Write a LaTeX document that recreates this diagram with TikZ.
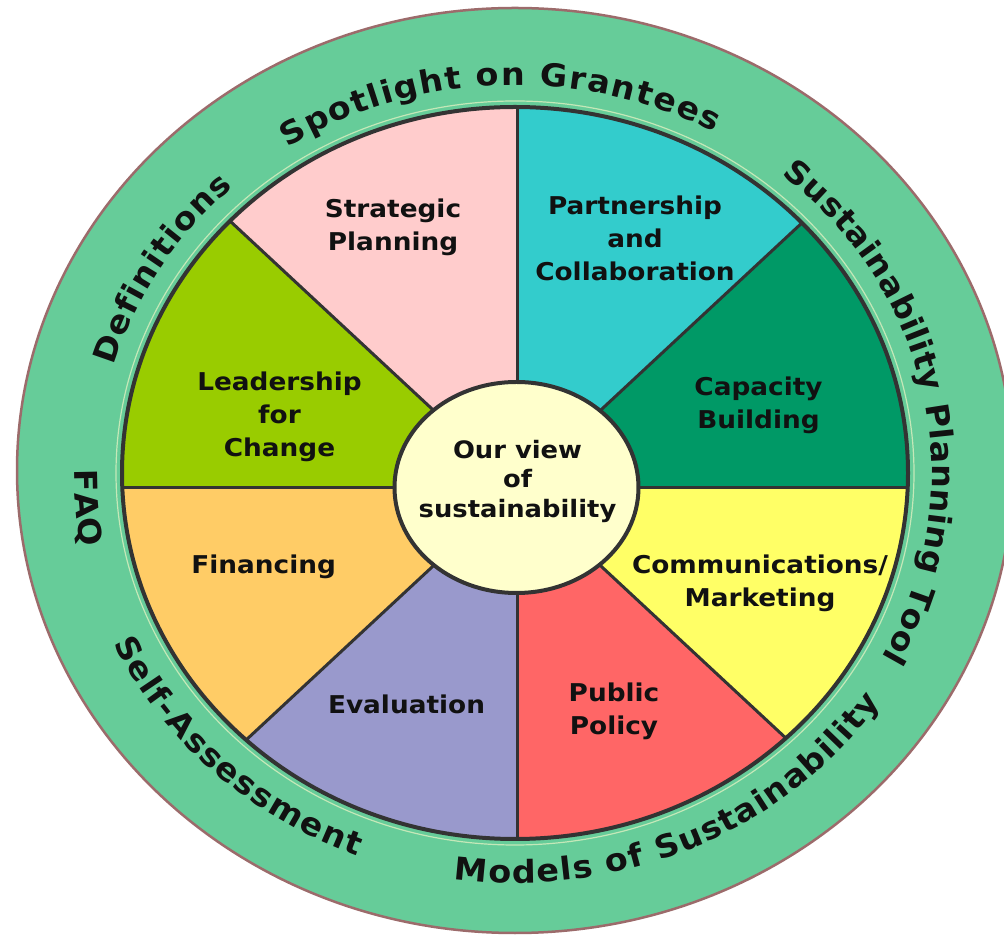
\documentclass[tikz,border=0pt]{standalone}
\usepackage{fontspec}
\setmainfont{DejaVu Sans}
\newfontfamily\ringfont{DejaVu Sans}[FakeStretch=1.06]
\usepackage{graphicx}
\usetikzlibrary{decorations.text}
\definecolor{ringc}{HTML}{66CC99}
\definecolor{ringedge}{HTML}{9C6B6B}
\definecolor{hilite}{HTML}{C4E8B8}
\definecolor{lineg}{HTML}{333333}
\definecolor{capg}{HTML}{009966}
\definecolor{cyanc}{HTML}{33CCCC}
\definecolor{pinkc}{HTML}{FFCCCC}
\definecolor{leadc}{HTML}{99CC00}
\definecolor{finc}{HTML}{FFCC66}
\definecolor{evalc}{HTML}{9999CC}
\definecolor{pubc}{HTML}{FF6666}
\definecolor{commc}{HTML}{FFFF66}
\definecolor{centc}{HTML}{FFFFCC}
\definecolor{txtc}{HTML}{111111}
\newcommand{\sxx}[1]{\scalebox{1.075}[1]{#1}}
\begin{document}
\begin{tikzpicture}[x=1pt,y=1pt,
  lbl/.style={font=\fontsize{24.5}{33}\selectfont\bfseries, align=center, text=txtc, inner sep=0pt},
  clbl/.style={font=\fontsize{24}{29.5}\selectfont\bfseries, align=center, text=txtc, inner sep=0pt},
  divider/.style={draw=lineg, line width=3pt},
  outertext/.style={decorate, decoration={text along path, text align={fit to path}, text color=txtc,
     text={|\ringfont\fontsize{31.5}{31.5}\selectfont\bfseries|#1}}}
  ]
\useasboundingbox (0,0) rectangle (1004,940);
\coordinate (C) at (515,467);
\coordinate (O) at (515,469.5);
\coordinate (P) at (517,452);
% outer ring
\fill[ringc] (O) ellipse[x radius=498, y radius=462.5];
\draw[ringedge, line width=2.5pt] (O) ellipse[x radius=498, y radius=462.5];
\draw[hilite, line width=1.2pt] (C) ellipse[x radius=399, y radius=372];
% sectors
\foreach \a/\col in {0/capg,45/cyanc,90/pinkc,135/leadc,180/finc,225/evalc,270/pubc,315/commc}{
  \begin{scope}
    \clip[shift={(P)}, xscale=1.075] (0,0) -- (\a:700) -- ({\a+22.5}:700) -- ({\a+45}:700) -- cycle;
    \fill[fill=\col] (C) ellipse[x radius=393, y radius=366];
  \end{scope}
}
\begin{scope}
  \clip (C) ellipse[x radius=393, y radius=366];
  \foreach \a in {0,45,...,315}{
    \draw[divider, shift={(P)}, xscale=1.075] (0,0) -- (\a:700);
  }
\end{scope}
\draw[lineg, line width=4pt] (C) ellipse[x radius=393, y radius=366];
% centre
\draw[fill=centc, draw=lineg, line width=4pt] (516.5,452.5) ellipse[x radius=122, y radius=105.5];
\node[clbl] (ctr) at (517.5,459) {\sxx{Our view}\\\sxx{of}\\\sxx{sustainability}};
% sector labels
\node[lbl] (strat) at (393,713) {\sxx{Strategic}\\\sxx{Planning}};
\node[lbl] (partner) at (635,702) {\sxx{Partnership}\\\sxx{and}\\\sxx{Collaboration}};
\node[lbl] (capac) at (758.5,534.5) {\sxx{Capacity}\\\sxx{Building}};
\node[lbl] (comm) at (760,357) {\sxx{Communications/}\\\sxx{Marketing}};
\node[lbl] (pub) at (614,229) {\sxx{Public}\\\sxx{Policy}};
\node[lbl] (eval) at (406.5,235.6) {\sxx{Evaluation}};
\node[lbl] (fin) at (263.7,373.5) {\sxx{Financing}};
\node[lbl] (lead) at (279.5,523.3) {\sxx{Leadership}\\\sxx{for}\\\sxx{Change}};
% ring texts (top type: clockwise, baseline inside)
\path[outertext={Spotlight on Grantees}] ({515+417.1*cos(123)},{467+388*sin(123)}) arc[start angle=123, end angle=61.5, x radius=417.1, y radius=388];
\path[outertext={Definitions}] ({515+417.1*cos(164)},{467+388*sin(164)}) arc[start angle=164, end angle=132.5, x radius=417.1, y radius=388];
\path[outertext={Sustainability Planning Tool}] ({515+417.1*cos(50.3)},{467+388*sin(50.3)}) arc[start angle=50.3, end angle=-28.4, x radius=417.1, y radius=388];
% bottom type: counter-clockwise, baseline outside
\path[outertext={FAQ}] ({515+440.75*cos(179.5)},{467+410*sin(179.5)}) arc[start angle=179.5, end angle=190.5, x radius=440.75, y radius=410];
\path[outertext={Self-Assessment}] ({515+440.75*cos(204.5)},{467+410*sin(204.5)}) arc[start angle=204.5, end angle=249, x radius=440.75, y radius=410];
\path[outertext={Models of Sustainability}] ({515+440.75*cos(262)},{467+410*sin(262)}) arc[start angle=262, end angle=326, x radius=440.75, y radius=410];
\end{tikzpicture}
\end{document}
